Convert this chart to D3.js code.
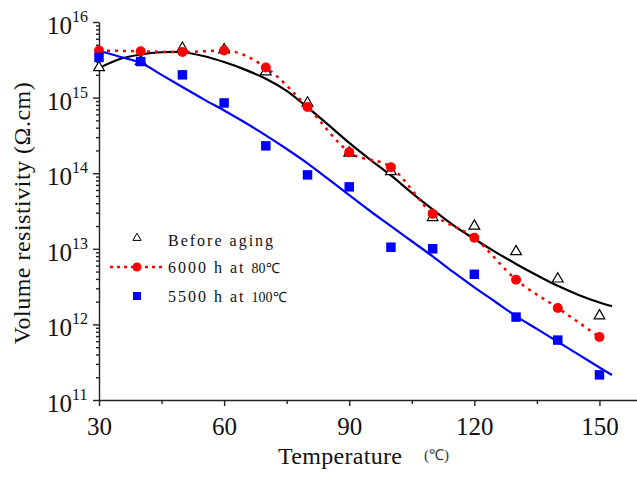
<!DOCTYPE html>
<html>
<head>
<meta charset="utf-8">
<script src="https://cdn.jsdelivr.net/npm/d3@7"></script>
<style>
  body { margin: 0; background: #fff; }
  svg text { font-family: "Liberation Serif", "Times New Roman", Times, serif; }
</style>
</head>
<body>
<div id="chart"></div>
<script>
// measured temperatures (°C)
const temps = [30, 40, 50, 60, 70, 80, 90, 100, 110, 120, 130, 140, 150];

// volume resistivity (Ω.cm)
const beforeAging = [2.5e15, 3.0e15, 4.5e15, 4.3e15, 2.2e15, 8.5e14, 1.85e14, 1.05e14, 2.6e13, 2.0e13, 9.2e12, 4.0e12, 1.3e12];
const aged80 = [4.2e15, 4.1e15, 4.0e15, 4.2e15, 2.5e15, 7.5e14, 1.9e14, 1.2e14, 2.9e13, 1.4e13, 3.9e12, 1.65e12, 6.8e11];
const aged100 = [3.4e15, 3.0e15, 2.0e15, 8.5e14, 2.3e14, 9.5e13, 6.6e13, 1.05e13, 1.0e13, 4.6e12, 1.25e12, 6.2e11, 2.15e11];

// fitted curves (log10 of resistivity)
const fitTemps = [30, 35, 40, 45, 50, 55, 60, 65, 70, 75, 80, 85, 90, 95, 100, 105, 110, 115, 120, 125, 130, 135, 140, 145, 150, 153];
const fitBefore = [15.39, 15.51, 15.57, 15.60, 15.60, 15.55, 15.47, 15.37, 15.25, 15.09, 14.87, 14.64, 14.40, 14.18, 13.97, 13.74, 13.52, 13.31, 13.13, 12.96, 12.80, 12.65, 12.51, 12.39, 12.29, 12.24];
const fit100 = [15.62, 15.54, 15.46, 15.30, 15.14, 14.98, 14.83, 14.67, 14.50, 14.32, 14.13, 13.92, 13.71, 13.50, 13.30, 13.10, 12.90, 12.69, 12.49, 12.30, 12.11, 11.94, 11.77, 11.60, 11.43, 11.33];

const xTicks = [30, 60, 90, 120, 150];
const xMinor = [45, 75, 105, 135];
const yExps = [11, 12, 13, 14, 15, 16];

const width = 637, height = 495;
const serif = '"Liberation Serif", "Times New Roman", Times, serif';

const svg = d3.select('#chart').append('svg')
    .attr('width', width)
    .attr('height', height);

const x = d3.scaleLinear().domain([30, 159]).range([99, 637]);
const y = d3.scaleLog().domain([1e11, 1e16]).range([400, 22]);

// minor ticks for the log axis (2..9 per decade)
const yMinor = [];
yExps.slice(0, -1).forEach(e => {
    for (let k = 2; k <= 9; k++) yMinor.push(k * Math.pow(10, e));
});

// y axis
const yAxis = svg.append('g').attr('transform', 'translate(99,0)');
yAxis.call(d3.axisLeft(y).tickValues(yExps.map(e => Math.pow(10, e))).tickSize(6).tickSizeOuter(0).tickFormat(''));
yAxis.append('g').call(d3.axisLeft(y).tickValues(yMinor).tickSize(3).tickFormat(''))
    .select('.domain').remove();
yAxis.selectAll('path, line').attr('stroke', '#222').attr('stroke-width', 1.4);

// y tick labels 10^n
yExps.forEach(e => {
    const ty = y(Math.pow(10, e));
    svg.append('text')
        .attr('x', 72)
        .attr('y', ty + 12)
        .attr('text-anchor', 'end')
        .attr('font-family', serif)
        .attr('font-size', 25)
        .attr('fill', '#111')
        .text('10');
    svg.append('text')
        .attr('x', 72)
        .attr('y', ty)
        .attr('font-family', serif)
        .attr('font-size', 16)
        .attr('fill', '#111')
        .text(e);
});

// x axis
const xAxis = svg.append('g').attr('transform', 'translate(0,400)');
xAxis.call(d3.axisBottom(x).tickValues(xTicks).tickSize(6).tickSizeOuter(0).tickPadding(11));
xAxis.append('g').call(d3.axisBottom(x).tickValues(xMinor).tickSize(4).tickFormat(''))
    .select('.domain').remove();
xAxis.selectAll('path, line').attr('stroke', '#222').attr('stroke-width', 1.4);
xAxis.attr('font-family', serif);
xAxis.selectAll('text')
    .attr('font-size', 25)
    .attr('font-family', serif)
    .attr('fill', '#111');

// axis titles
svg.append('text')
    .attr('x', 278)
    .attr('y', 464)
    .attr('font-family', serif)
    .attr('font-size', 24)
    .attr('letter-spacing', 0.3)
    .attr('fill', '#111')
    .text('Temperature');
svg.append('text')
    .attr('x', 424)
    .attr('y', 460)
    .attr('font-family', serif)
    .attr('font-size', 15)
    .attr('fill', '#333')
    .text('(℃)');

svg.append('text')
    .attr('transform', 'translate(30,213) rotate(-90)')
    .attr('text-anchor', 'middle')
    .attr('font-family', serif)
    .attr('font-size', 24)
    .attr('letter-spacing', 0.5)
    .attr('fill', '#111')
    .text('Volume resistivity (Ω.cm)');

// fitted curves
const fitLine = d3.line()
    .x(d => x(d[0]))
    .y(d => y(Math.pow(10, d[1])))
    .curve(d3.curveCatmullRom);

svg.append('path')
    .attr('d', fitLine(fitTemps.map((t, i) => [t, fitBefore[i]])))
    .attr('fill', 'none')
    .attr('stroke', '#000')
    .attr('stroke-width', 2.2);

svg.append('path')
    .attr('d', fitLine(fitTemps.map((t, i) => [t, fit100[i]])))
    .attr('fill', 'none')
    .attr('stroke', '#0000ff')
    .attr('stroke-width', 2.2);

// red dotted line through the 80 °C points
const redLine = d3.line()
    .x(d => x(d[0]))
    .y(d => y(d[1]))
    .curve(d3.curveMonotoneX);

svg.append('path')
    .attr('d', redLine(temps.map((t, i) => [t, aged80[i]])))
    .attr('fill', 'none')
    .attr('stroke', '#ff0000')
    .attr('stroke-width', 2.5)
    .attr('stroke-dasharray', '3,5');

// markers
const tri = d3.symbol().type(d3.symbolTriangle).size(50);
const sq = d3.symbol().type(d3.symbolSquare).size(90);

svg.selectAll('.tri')
    .data(temps.map((t, i) => [t, beforeAging[i]]))
    .enter().append('path')
    .attr('class', 'tri')
    .attr('d', tri)
    .attr('transform', d => `translate(${x(d[0])},${y(d[1])})`)
    .attr('fill', '#fff')
    .attr('stroke', '#000')
    .attr('stroke-width', 1.2);

svg.selectAll('.dot')
    .data(temps.map((t, i) => [t, aged80[i]]))
    .enter().append('circle')
    .attr('class', 'dot')
    .attr('cx', d => x(d[0]))
    .attr('cy', d => y(d[1]))
    .attr('r', 5)
    .attr('fill', '#ff0000');

svg.selectAll('.sq')
    .data(temps.map((t, i) => [t, aged100[i]]))
    .enter().append('path')
    .attr('class', 'sq')
    .attr('d', sq)
    .attr('transform', d => `translate(${x(d[0])},${y(d[1])})`)
    .attr('fill', '#0000ff');

// legend
const legend = svg.append('g').attr('class', 'legend');

legend.append('path')
    .attr('d', d3.symbol().type(d3.symbolTriangle).size(30))
    .attr('transform', 'translate(137,238)')
    .attr('fill', '#fff')
    .attr('stroke', '#000')
    .attr('stroke-width', 1);

legend.append('line')
    .attr('x1', 110).attr('x2', 165)
    .attr('y1', 267).attr('y2', 267)
    .attr('stroke', '#ff0000')
    .attr('stroke-width', 2.5)
    .attr('stroke-dasharray', '3,4');
legend.append('circle')
    .attr('cx', 137).attr('cy', 267).attr('r', 4.5)
    .attr('fill', '#ff0000');

legend.append('rect')
    .attr('x', 133).attr('y', 292)
    .attr('width', 8).attr('height', 8)
    .attr('fill', '#0000ff');

const legendText = [
    { y: 246, main: 'Before aging', small: '' },
    { y: 273, main: '6000 h at ', small: '80℃' },
    { y: 302, main: '5500 h at ', small: '100℃' }
];

legendText.forEach(d => {
    const t = legend.append('text')
        .attr('x', 168)
        .attr('y', d.y)
        .attr('font-family', serif)
        .attr('font-size', 16)
        .attr('letter-spacing', 2)
        .attr('fill', '#111');
    t.append('tspan').text(d.main);
    if (d.small) {
        t.append('tspan')
            .attr('font-size', 14)
            .attr('letter-spacing', 0)
            .text(d.small);
    }
});
</script>
</body>
</html>
